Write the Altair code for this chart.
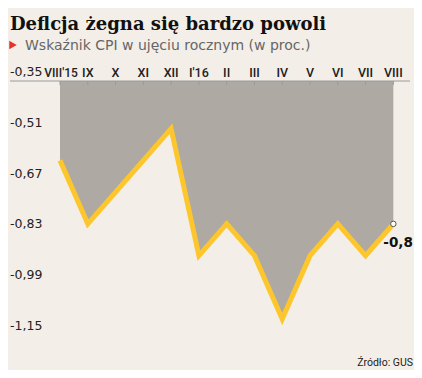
import altair as alt
import pandas as pd

months = ["VIII'15", "IX", "X", "XI", "XII", "I'16", "II", "III", "IV", "V", "VI", "VII", "VIII"]
cpi = [-0.6, -0.8, -0.7, -0.6, -0.5, -0.9, -0.8, -0.9, -1.1, -0.9, -0.8, -0.9, -0.8]
y_ticks = [-0.35, -0.51, -0.67, -0.83, -0.99, -1.15]
y_tick_labels = ["-0,35", "-0,51", "-0,67", "-0,83", "-0,99", "-1,15"]
title_text = "Deflcja żegna się bardzo powoli"
subtitle_text = "Wskaźnik CPI w ujęciu rocznym (w proc.)"
source_text = "Źródło: GUS"
end_label = "-0,8"

BG = "#f3efe8"
AREA = "#aea9a3"
YELLOW = "#fdc62c"
LABEL_FONT = "DejaVu Sans"
XFONT = "Roboto"

df = pd.DataFrame({"i": list(range(len(months))), "month": months, "cpi": cpi,
                   "top": [-0.35] * len(months)})
ticks_df = pd.DataFrame({"v": y_ticks, "lab": y_tick_labels})
grid_df = ticks_df[ticks_df["v"] > -0.35]

xs = alt.Scale(domain=[-1.8, 12.6], nice=False, zero=False)
ys = alt.Scale(domain=[-1.15, -0.35], nice=False, zero=False)
X = alt.X("i:Q", scale=xs, axis=None)
Y = alt.Y("cpi:Q", scale=ys, axis=None)

base = alt.Chart(df)

area = base.mark_area(color=AREA, opacity=1).encode(x=X, y=Y, y2="top:Q")

grid = alt.Chart(grid_df[grid_df["v"] != -0.99]).mark_rule(
    color="#9a9a9a", strokeDash=[2, 2], strokeWidth=1
).encode(y=alt.Y("v:Q", scale=ys, axis=None), x=alt.value(0), x2=alt.value(398))

grid_dark = alt.Chart(grid_df[grid_df["v"] == -0.99]).mark_rule(
    color="#111111", strokeDash=[3, 2], strokeWidth=1
).encode(y=alt.Y("v:Q", scale=ys, axis=None), x=alt.value(0), x2=alt.value(398))

domain_line = alt.Chart(ticks_df[ticks_df["v"] == -0.35]).mark_rule(
    color="#9a9a9a", strokeWidth=1
).encode(y=alt.Y("v:Q", scale=ys, axis=None), x=alt.value(0), x2=alt.value(400))

xticks = base.mark_rule(color="#9a9a9a", strokeWidth=1).encode(
    x=X, y=alt.value(0), y2=alt.value(4))

line = base.mark_line(color=YELLOW, strokeWidth=5, strokeJoin="miter").encode(x=X, y=Y)

last = alt.Chart(df.tail(1))
end_pt = last.mark_point(shape="circle", filled=True, fill="white", stroke="#555555",
                         strokeWidth=1, size=30, opacity=1).encode(x=X, y=Y)
end_txt = last.mark_text(text=end_label, font="DejaVu Sans", fontWeight="bold",
                         fontSize=13.5, align="left", baseline="alphabetic",
                         dx=-10, dy=23, color="#111111").encode(x=X, y=Y)

ylabels = alt.Chart(ticks_df).mark_text(
    font=LABEL_FONT, fontSize=12.5, align="left", baseline="alphabetic", dy=-5,
    color="#222222"
).encode(x=alt.value(0), y=alt.Y("v:Q", scale=ys, axis=None), text="lab:N")

xlabels = base.mark_text(
    font=XFONT, fontSize=12.5, fontWeight=500, align="center", baseline="alphabetic", dy=-4,
    color="#222222"
).encode(x=X, y=alt.value(0), text="month:N").transform_filter("datum.i > 0")

xlabel0 = base.mark_text(
    font=XFONT, fontSize=12, fontWeight=500, align="center", baseline="alphabetic", dy=-4, dx=1,
    color="#222222"
).encode(x=X, y=alt.value(0), text="month:N").transform_filter("datum.i == 0")

title = alt.Chart(pd.DataFrame({"t": [title_text]})).mark_text(
    font="DejaVu Serif", fontWeight="bold", fontSize=18, align="left",
    baseline="alphabetic", color="#111111"
).encode(x=alt.value(0), y=alt.value(-51), text="t:N")

subtitle = alt.Chart(pd.DataFrame({"t": [subtitle_text]})).mark_text(
    font=LABEL_FONT, fontSize=14, align="left", baseline="alphabetic", color="#666666"
).encode(x=alt.value(15), y=alt.value(-31), text="t:N")

tri = alt.Chart(pd.DataFrame({"t": [1]})).mark_point(
    shape="triangle-right", filled=True, color="#e3342a", size=75, opacity=1
).encode(x=alt.value(3), y=alt.value(-36))

source = alt.Chart(pd.DataFrame({"t": [source_text]})).mark_text(
    font=XFONT, fontSize=10.5, align="right", baseline="alphabetic", color="#222222"
).encode(x=alt.value(403), y=alt.value(285), text="t:N")

chart = alt.layer(
    area, grid, grid_dark, domain_line, xticks, line, end_pt, end_txt,
    ylabels, xlabels, xlabel0, title, subtitle, tri, source
).properties(
    width=400, height=254, background=BG,
    autosize=alt.AutoSizeParams(type="none"),
    padding={"left": 2, "top": 73, "right": 4, "bottom": 35}
).configure_view(stroke=None)

chart.save("out.html", embed_options={"renderer": "svg", "actions": False})
